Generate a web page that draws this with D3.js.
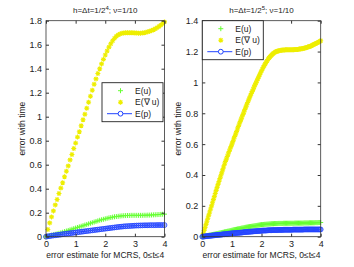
<!DOCTYPE html>
<html>
<head>
<meta charset="utf-8">
<script src="https://cdn.jsdelivr.net/npm/d3@7"></script>
<style>
  body { margin: 0; background: #fff; }
  svg { display: block; font-family: "Liberation Sans", Arial, sans-serif; }
</style>
</head>
<body>
<div id="chart"></div>
<script>
// time steps: left panel dt = 1/16, right panel dt = 1/32, 0 <= t <= 4
const timesLeft = d3.range(65).map(k => k / 16);
const timesRight = d3.range(129).map(k => k / 32);

const xTicks = [0, 1, 2, 3, 4];
const yTicksLeft = [0, 0.2, 0.4, 0.6, 0.8, 1, 1.2, 1.4, 1.6, 1.8];
const yTicksRight = [0, 0.2, 0.4, 0.6, 0.8, 1, 1.2, 1.4];
const legendLabels = ["E(u)", "E(\u2207 u)", "E(p)"];

// left panel, h = dt = 1/2^4
const leftEu = [0, 0.004, 0.008, 0.012, 0.016, 0.02, 0.024, 0.028, 0.032, 0.037, 0.042, 0.047, 0.052, 0.057, 0.062, 0.067,
  0.072, 0.077, 0.082, 0.087, 0.092, 0.097, 0.102, 0.107, 0.112, 0.117, 0.122, 0.127, 0.132, 0.137, 0.141, 0.145,
  0.149, 0.153, 0.157, 0.16, 0.163, 0.166, 0.168, 0.17, 0.172, 0.174, 0.175, 0.176, 0.177, 0.177, 0.178, 0.178,
  0.178, 0.178, 0.178, 0.178, 0.178, 0.179, 0.179, 0.18, 0.18, 0.181, 0.182, 0.183, 0.184, 0.185, 0.186, 0.187, 0.188];
const leftEgrad = [0, 0.06, 0.115, 0.165, 0.215, 0.265, 0.31, 0.36, 0.405, 0.45, 0.5, 0.545, 0.59, 0.64, 0.685, 0.735,
  0.78, 0.83, 0.875, 0.925, 0.975, 1.02, 1.07, 1.12, 1.17, 1.22, 1.27, 1.315, 1.36, 1.4, 1.44, 1.478,
  1.514, 1.548, 1.58, 1.608, 1.633, 1.654, 1.67, 1.682, 1.69, 1.695, 1.698, 1.7, 1.7, 1.7, 1.7, 1.7,
  1.698, 1.697, 1.696, 1.696, 1.697, 1.7, 1.703, 1.707, 1.712, 1.718, 1.725, 1.733, 1.742, 1.752, 1.763, 1.776, 1.79];
const leftEp = [0, 0.003, 0.005, 0.008, 0.01, 0.012, 0.014, 0.016, 0.018, 0.021, 0.023, 0.025, 0.027, 0.029, 0.031, 0.033,
  0.035, 0.037, 0.039, 0.041, 0.043, 0.045, 0.047, 0.049, 0.051, 0.053, 0.055, 0.057, 0.059, 0.061, 0.063, 0.065,
  0.067, 0.069, 0.071, 0.073, 0.075, 0.077, 0.079, 0.081, 0.083, 0.084, 0.086, 0.087, 0.088, 0.089, 0.09, 0.091,
  0.092, 0.093, 0.093, 0.094, 0.094, 0.095, 0.095, 0.095, 0.096, 0.096, 0.096, 0.096, 0.097, 0.097, 0.097, 0.097, 0.097];

// right panel, h = dt = 1/2^5
const rightEu = [0, 0.001, 0.002, 0.004, 0.005, 0.006, 0.007, 0.009, 0.01, 0.011, 0.012, 0.014, 0.015, 0.016, 0.017, 0.019,
  0.02, 0.021, 0.023, 0.024, 0.025, 0.027, 0.028, 0.029, 0.031, 0.032, 0.033, 0.035, 0.036, 0.037, 0.039, 0.04,
  0.042, 0.043, 0.045, 0.046, 0.047, 0.048, 0.05, 0.051, 0.052, 0.053, 0.055, 0.056, 0.057, 0.058, 0.06, 0.061,
  0.062, 0.063, 0.064, 0.065, 0.066, 0.067, 0.068, 0.069, 0.07, 0.071, 0.072, 0.073, 0.074, 0.075, 0.076, 0.077,
  0.078, 0.078, 0.079, 0.08, 0.08, 0.081, 0.081, 0.082, 0.082, 0.083, 0.083, 0.084, 0.084, 0.084, 0.085, 0.085,
  0.085, 0.085, 0.086, 0.086, 0.086, 0.086, 0.086, 0.086, 0.087, 0.087, 0.087, 0.087, 0.087, 0.087, 0.087, 0.087,
  0.087, 0.087, 0.087, 0.087, 0.088, 0.088, 0.088, 0.088, 0.088, 0.088, 0.088, 0.088, 0.088, 0.088, 0.089, 0.089,
  0.089, 0.089, 0.089, 0.089, 0.09, 0.09, 0.09, 0.09, 0.09, 0.09, 0.091, 0.091, 0.091, 0.091, 0.092, 0.092, 0.092];
const rightEgrad = [0, 0.02, 0.04, 0.06, 0.08, 0.1, 0.12, 0.14, 0.16, 0.18, 0.2, 0.22, 0.24, 0.26, 0.28, 0.3,
  0.32, 0.339, 0.358, 0.377, 0.395, 0.414, 0.433, 0.452, 0.47, 0.487, 0.503, 0.52, 0.536, 0.552, 0.568, 0.584,
  0.6, 0.616, 0.633, 0.649, 0.665, 0.681, 0.698, 0.714, 0.73, 0.746, 0.762, 0.777, 0.793, 0.808, 0.824, 0.84,
  0.855, 0.87, 0.885, 0.9, 0.914, 0.928, 0.942, 0.956, 0.97, 0.984, 0.997, 1.011, 1.024, 1.037, 1.05, 1.063,
  1.075, 1.087, 1.098, 1.109, 1.12, 1.13, 1.14, 1.149, 1.158, 1.165, 1.172, 1.178, 1.184, 1.189, 1.193, 1.197,
  1.2, 1.202, 1.204, 1.206, 1.207, 1.208, 1.209, 1.21, 1.21, 1.21, 1.211, 1.211, 1.211, 1.211, 1.211, 1.211,
  1.212, 1.212, 1.212, 1.212, 1.213, 1.213, 1.214, 1.214, 1.215, 1.216, 1.217, 1.218, 1.219, 1.22, 1.222, 1.223,
  1.225, 1.227, 1.229, 1.231, 1.233, 1.235, 1.238, 1.241, 1.244, 1.247, 1.25, 1.253, 1.256, 1.259, 1.263, 1.266, 1.27];
const rightEp = [0, 0.001, 0.001, 0.002, 0.003, 0.004, 0.004, 0.005, 0.006, 0.006, 0.007, 0.008, 0.008, 0.009, 0.01, 0.011,
  0.011, 0.012, 0.012, 0.013, 0.013, 0.014, 0.015, 0.016, 0.016, 0.017, 0.017, 0.018, 0.019, 0.02, 0.02, 0.021,
  0.022, 0.022, 0.023, 0.023, 0.024, 0.024, 0.025, 0.025, 0.026, 0.026, 0.027, 0.027, 0.028, 0.029, 0.03, 0.03,
  0.031, 0.031, 0.032, 0.032, 0.033, 0.033, 0.034, 0.034, 0.035, 0.035, 0.036, 0.036, 0.037, 0.037, 0.038, 0.038,
  0.039, 0.039, 0.04, 0.04, 0.04, 0.04, 0.041, 0.041, 0.042, 0.042, 0.042, 0.042, 0.043, 0.043, 0.043, 0.043,
  0.043, 0.043, 0.044, 0.044, 0.044, 0.044, 0.044, 0.044, 0.045, 0.045, 0.045, 0.045, 0.045, 0.045, 0.045, 0.045,
  0.045, 0.045, 0.046, 0.046, 0.046, 0.046, 0.046, 0.046, 0.046, 0.046, 0.046, 0.046, 0.046, 0.046, 0.047, 0.047,
  0.047, 0.047, 0.047, 0.047, 0.047, 0.047, 0.047, 0.047, 0.047, 0.047, 0.047, 0.047, 0.047, 0.047, 0.047, 0.047, 0.047];

const width = 354, height = 267;
const colors = { u: "#66ff33", grad: "#eeee00", p: "#2244ff" };

const svg = d3.select("#chart").append("svg")
  .attr("width", width)
  .attr("height", height);

// marker shapes (MATLAB style)
const plusPath = "M-2.5,0H2.5M0,-2.5V2.5";
const starPath = "M-2.5,0H2.5M0,-2.5V2.5M-1.8,-1.8L1.8,1.8M-1.8,1.8L1.8,-1.8";

function drawPanel(opts) {
  const x = d3.scaleLinear().domain([0, 4]).range([opts.left, opts.right]);
  const y = d3.scaleLinear().domain([0, opts.ymax]).range([236.7, 20.7]);
  const g = svg.append("g");

  const eu = opts.times.map((t, i) => ({ t, v: opts.eu[i] }));
  const eg = opts.times.map((t, i) => ({ t, v: opts.grad[i] }));
  const ep = opts.times.map((t, i) => ({ t, v: opts.p[i] }));

  // E(grad u) stars
  g.append("g").selectAll("path").data(eg).enter().append("path")
    .attr("d", starPath)
    .attr("transform", d => `translate(${x(d.t)},${y(d.v)})`)
    .attr("stroke", colors.grad).attr("stroke-width", 1.1).attr("fill", "none");

  // E(u) plus
  g.append("g").selectAll("path").data(eu).enter().append("path")
    .attr("d", plusPath)
    .attr("transform", d => `translate(${x(d.t)},${y(d.v)})`)
    .attr("stroke", colors.u).attr("stroke-width", 1).attr("fill", "none");

  // E(p) line + circles
  g.append("path").datum(ep)
    .attr("d", d3.line().x(d => x(d.t)).y(d => y(d.v)))
    .attr("stroke", colors.p).attr("stroke-width", 1).attr("fill", "none");
  g.append("g").selectAll("circle").data(ep).enter().append("circle")
    .attr("cx", d => x(d.t)).attr("cy", d => y(d.v)).attr("r", 2.4)
    .attr("stroke", colors.p).attr("stroke-width", 0.9).attr("fill", "none");

  // axes with inward ticks on all sides
  const axStyle = a => {
    a.selectAll("path").remove();
    a.selectAll("line").attr("stroke", "#333");
    a.selectAll("text").attr("fill", "#222").style("font-size", "9px");
  };
  g.append("g").attr("transform", `translate(0,${y(0)})`)
    .call(d3.axisBottom(x).tickValues(xTicks).tickSize(-3).tickPadding(4).tickFormat(d3.format("d")))
    .call(axStyle);
  g.append("g").attr("transform", `translate(0,${y(opts.ymax)})`)
    .call(d3.axisTop(x).tickValues(xTicks).tickSize(-3).tickFormat(""))
    .call(axStyle);
  g.append("g").attr("transform", `translate(${opts.left},0)`)
    .call(d3.axisLeft(y).tickValues(opts.yTicks).tickSize(-3).tickPadding(4).tickFormat(d => d3.format("~g")(d)))
    .call(axStyle);
  g.append("g").attr("transform", `translate(${opts.right},0)`)
    .call(d3.axisRight(y).tickValues(opts.yTicks).tickSize(-3).tickFormat(""))
    .call(axStyle);

  g.append("rect")
    .attr("x", opts.left).attr("y", y(opts.ymax))
    .attr("width", opts.right - opts.left).attr("height", y(0) - y(opts.ymax))
    .attr("fill", "none").attr("stroke", "#333").attr("stroke-width", 0.8);

  // title
  const cx = (opts.left + opts.right) / 2;
  const title = g.append("text").attr("x", cx).attr("y", 13)
    .attr("text-anchor", "middle").style("font-size", "8px").attr("fill", "#222");
  title.append("tspan").text("h=\u0394t=1/2");
  title.append("tspan").attr("dy", -3).style("font-size", "6px").text(opts.exp);
  title.append("tspan").attr("dy", 3).text("; \u03bd=1/10");

  // axis labels
  g.append("text").attr("x", cx).attr("y", 258)
    .attr("text-anchor", "middle").style("font-size", "8.5px").attr("fill", "#222")
    .text("error estimate for MCRS, 0\u2264t\u22644");
  g.append("text")
    .attr("transform", `translate(${opts.left - 21},${(y(0) + y(opts.ymax)) / 2}) rotate(-90)`)
    .attr("text-anchor", "middle").style("font-size", "8.5px").attr("fill", "#222")
    .text("error with time");

  // legend
  const lg = g.append("g").attr("transform", `translate(${opts.legX},${opts.legY})`);
  lg.append("rect").attr("width", 61).attr("height", 39)
    .attr("fill", "#fff").attr("stroke", "#222").attr("stroke-width", 0.9);
  const rows = [8, 19.5, 31];
  lg.append("path").attr("d", plusPath).attr("transform", `translate(18.5,${rows[0]})`)
    .attr("stroke", colors.u).attr("fill", "none");
  lg.append("path").attr("d", starPath).attr("transform", `translate(18.5,${rows[1]})`)
    .attr("stroke", colors.grad).attr("stroke-width", 1.1).attr("fill", "none");
  lg.append("line").attr("x1", 5).attr("x2", 30).attr("y1", rows[2]).attr("y2", rows[2])
    .attr("stroke", colors.p);
  lg.append("circle").attr("cx", 18.5).attr("cy", rows[2]).attr("r", 2.4)
    .attr("stroke", colors.p).attr("fill", "#fff");
  legendLabels.forEach((lab, i) => {
    lg.append("text").attr("x", 33).attr("y", rows[i] + 3)
      .style("font-size", "8.5px").attr("fill", "#222").text(lab);
  });
}

drawPanel({ left: 46, right: 164.5, ymax: 1.8, yTicks: yTicksLeft, exp: "4", times: timesLeft,
  eu: leftEu, grad: leftEgrad, p: leftEp, legX: 102, legY: 82.7 });
drawPanel({ left: 202.3, right: 320.7, ymax: 1.4, yTicks: yTicksRight, exp: "5", times: timesRight,
  eu: rightEu, grad: rightEgrad, p: rightEp, legX: 202.3, legY: 20.7 });
</script>
</body>
</html>
